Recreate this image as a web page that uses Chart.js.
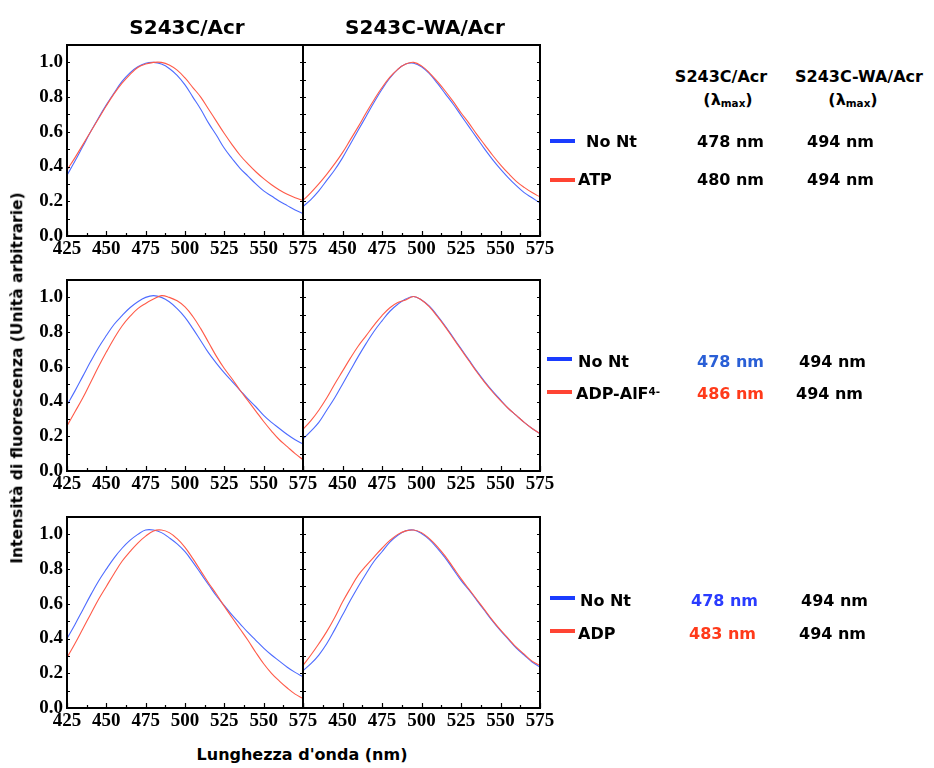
<!DOCTYPE html>
<html><head><meta charset="utf-8">
<script src="https://cdn.jsdelivr.net/npm/chart.js@4"></script>
<style>
body{margin:0;background:#fff;width:934px;height:768px;position:relative;overflow:hidden;font-family:"DejaVu Sans",sans-serif;}
canvas{position:absolute;}
.t{position:absolute;font-weight:bold;white-space:nowrap;color:#000;line-height:1;transform:translateY(-50%);}
.c{position:absolute;font-weight:bold;white-space:nowrap;color:#000;line-height:1;transform:translate(-50%,-50%);}
.bar{position:absolute;height:4px;width:25px;}
sub{font-size:0.65em;vertical-align:-0.25em;}
sup{font-size:0.65em;vertical-align:0.45em;}
</style></head><body>
<script>
// ---------- DATA ----------
const wavelengths = [425,430,435,440,445,450,455,460,465,470,475,480,485,490,495,500,505,510,515,520,525,530,535,540,545,550,555,560,565,570,575];
const xTickLabels = [425,450,475,500,525,550,575];
const yTickLabels = [0.0,0.2,0.4,0.6,0.8,1.0];

// Row 1: No Nt vs ATP
const s243c_noNt_1   = [0.35,0.43,0.515,0.60,0.68,0.755,0.825,0.89,0.94,0.975,0.995,1.0,0.99,0.965,0.925,0.87,0.80,0.73,0.65,0.58,0.505,0.445,0.39,0.345,0.30,0.26,0.23,0.20,0.175,0.15,0.13];
const s243c_atp      = [0.38,0.45,0.525,0.60,0.675,0.75,0.82,0.88,0.93,0.97,0.99,1.0,1.0,0.985,0.955,0.91,0.855,0.80,0.73,0.66,0.59,0.525,0.465,0.415,0.37,0.33,0.295,0.265,0.24,0.22,0.205];
const s243cwa_noNt_1 = [0.17,0.21,0.26,0.32,0.38,0.45,0.53,0.61,0.69,0.77,0.845,0.91,0.96,0.99,0.995,0.975,0.935,0.88,0.82,0.76,0.695,0.63,0.565,0.50,0.44,0.385,0.335,0.29,0.25,0.22,0.19];
const s243cwa_atp    = [0.205,0.25,0.30,0.355,0.415,0.48,0.555,0.63,0.71,0.785,0.855,0.915,0.96,0.99,1.0,0.98,0.94,0.89,0.835,0.775,0.71,0.65,0.585,0.525,0.465,0.41,0.36,0.315,0.28,0.25,0.225];

// Row 2: No Nt vs ADP-AlF4-
const s243c_noNt_2   = [0.38,0.46,0.545,0.63,0.71,0.78,0.845,0.895,0.94,0.975,1.0,1.01,1.0,0.975,0.935,0.885,0.82,0.75,0.68,0.62,0.565,0.515,0.465,0.415,0.37,0.32,0.28,0.245,0.21,0.18,0.155];
const s243c_alf      = [0.26,0.34,0.42,0.51,0.60,0.685,0.765,0.835,0.89,0.935,0.965,0.99,1.01,1.0,0.98,0.945,0.89,0.82,0.74,0.66,0.59,0.53,0.465,0.405,0.345,0.285,0.23,0.18,0.14,0.10,0.065];
const s243cwa_noNt_2 = [0.185,0.23,0.28,0.35,0.42,0.50,0.58,0.66,0.735,0.805,0.865,0.92,0.96,0.99,1.005,0.985,0.95,0.895,0.835,0.77,0.705,0.64,0.575,0.515,0.46,0.41,0.36,0.32,0.28,0.245,0.215];
const s243cwa_alf    = [0.24,0.29,0.35,0.42,0.50,0.575,0.65,0.72,0.78,0.84,0.895,0.94,0.97,0.985,1.005,0.985,0.945,0.89,0.83,0.765,0.70,0.635,0.57,0.51,0.455,0.405,0.36,0.32,0.28,0.245,0.215];

// Row 3: No Nt vs ADP
const s243c_noNt_3   = [0.40,0.48,0.565,0.65,0.73,0.80,0.865,0.92,0.965,1.0,1.025,1.025,1.01,0.98,0.945,0.90,0.84,0.775,0.71,0.645,0.59,0.535,0.485,0.435,0.39,0.345,0.305,0.27,0.235,0.205,0.18];
const s243c_adp      = [0.29,0.37,0.455,0.54,0.625,0.70,0.775,0.845,0.90,0.95,0.99,1.02,1.025,1.01,0.975,0.925,0.86,0.79,0.72,0.655,0.585,0.52,0.455,0.39,0.32,0.255,0.20,0.155,0.115,0.08,0.055];
const s243cwa_noNt_3 = [0.215,0.255,0.305,0.37,0.45,0.535,0.62,0.70,0.775,0.845,0.90,0.955,0.995,1.02,1.025,1.005,0.97,0.92,0.865,0.80,0.735,0.68,0.62,0.56,0.50,0.445,0.395,0.345,0.305,0.265,0.235];
const s243cwa_adp    = [0.245,0.305,0.37,0.44,0.52,0.61,0.69,0.765,0.82,0.87,0.92,0.965,1.0,1.02,1.025,1.01,0.975,0.93,0.875,0.81,0.745,0.685,0.625,0.565,0.505,0.45,0.40,0.35,0.31,0.27,0.245];

// ---------- DRAWING ----------
const BLUE_LINE = '#4d6bff', RED_LINE = '#ff5a48';
const tickFont = {family:'"Liberation Serif", serif', size:19, weight:'bold'};

const framePlugin = {
  id:'frame',
  afterDatasetsDraw(chart){
    const {ctx, chartArea:a, scales:{x, y}} = chart;
    ctx.save();
    ctx.strokeStyle = '#000';
    ctx.lineWidth = 1.2;
    ctx.beginPath();
    for (let v = 425; v <= 575; v += 12.5){
      const px = Math.round(x.getPixelForValue(v)) + 0.5;
      const len = (Math.abs((v-425) % 25) < 0.01) ? 5 : 3;
      ctx.moveTo(px, a.bottom); ctx.lineTo(px, a.bottom - len);
    }
    for (let v = 0.1; v <= 1.05; v += 0.1){
      const py = Math.round(y.getPixelForValue(v)) + 0.5;
      ctx.moveTo(a.left, py); ctx.lineTo(a.left + 3, py);
      ctx.moveTo(a.right, py); ctx.lineTo(a.right - 3, py);
    }
    ctx.stroke();
    ctx.lineWidth = 2;
    ctx.strokeRect(a.left, a.top, a.right - a.left, a.bottom - a.top);
    ctx.restore();
  }
};

function panel(plotLeft, plotTop, isLeft, blue, red){
  const padTop = 10, xAxisH = 30, plotH = 191, padR = 22;
  const yAxisW = isLeft ? 47 : 20;
  const plotW = isLeft ? 236 : 237;
  const W = yAxisW + plotW + padR, H = padTop + plotH + xAxisH;
  const cv = document.createElement('canvas');
  cv.width = W; cv.height = H;
  cv.style.width = W + 'px'; cv.style.height = H + 'px';
  cv.style.left = (plotLeft - yAxisW) + 'px';
  cv.style.top = (plotTop - padTop) + 'px';
  document.body.appendChild(cv);
  const mk = (arr) => wavelengths.map((w, i) => ({x: w, y: arr[i]}));
  new Chart(cv, {
    type: 'line',
    data: { datasets: [
      {data: mk(red), borderColor: RED_LINE, borderWidth: 1.1, pointRadius: 0, tension: 0.4, fill: false},
      {data: mk(blue), borderColor: BLUE_LINE, borderWidth: 1.1, pointRadius: 0, tension: 0.4, fill: false}
    ]},
    options: {
      responsive: false, animation: false, devicePixelRatio: 1,
      layout: {padding: {top: padTop, right: padR, left: 0, bottom: 0}},
      plugins: {legend: {display: false}, tooltip: {enabled: false}},
      scales: {
        x: {
          type: 'linear', min: 425, max: 575,
          afterBuildTicks: s => { s.ticks = xTickLabels.map(v => ({value: v})); },
          afterFit: s => { s.height = xAxisH; s.paddingLeft = 0; s.paddingRight = 0; s.paddingTop = 0; s.paddingBottom = 0; },
          grid: {display: false, drawTicks: false}, border: {display: false},
          ticks: {font: tickFont, color: '#000', padding: 2, maxRotation: 0, autoSkip: false,
                  callback: v => (!isLeft && v === 425) ? '' : String(v)}
        },
        y: {
          type: 'linear', min: 0, max: 1.1,
          afterBuildTicks: s => { s.ticks = yTickLabels.map(v => ({value: v})); },
          afterFit: s => { s.width = yAxisW; s.paddingTop = 0; s.paddingBottom = 0; s.paddingLeft = 0; s.paddingRight = 0; },
          grid: {display: false, drawTicks: false}, border: {display: false},
          ticks: {display: isLeft, font: tickFont, color: '#000', padding: 4,
                  callback: v => Number(v).toFixed(1)}
        }
      }
    },
    plugins: [framePlugin]
  });
}

const rowTops = [45, 280, 517];
panel(67, rowTops[0], true, s243c_noNt_1, s243c_atp);
panel(303, rowTops[0], false, s243cwa_noNt_1, s243cwa_atp);
panel(67, rowTops[1], true, s243c_noNt_2, s243c_alf);
panel(303, rowTops[1], false, s243cwa_noNt_2, s243cwa_alf);
panel(67, rowTops[2], true, s243c_noNt_3, s243c_adp);
panel(303, rowTops[2], false, s243cwa_noNt_3, s243cwa_adp);
</script>

<div class="c" style="left:187px;top:27px;font-size:20px;">S243C/Acr</div>
<div class="c" style="left:425px;top:27px;font-size:20px;">S243C-WA/Acr</div>
<div class="c" style="left:18px;top:378px;font-size:15.5px;transform:translate(-50%,-50%) rotate(-90deg);">Intensità di fluorescenza (Unità arbitrarie)</div>
<div class="c" style="left:302px;top:755px;font-size:16px;">Lunghezza d'onda (nm)</div>

<div class="c" style="left:721px;top:77px;font-size:16px;">S243C/Acr</div>
<div class="c" style="left:728px;top:100px;font-size:16px;">(λ<sub>max</sub>)</div>
<div class="c" style="left:859px;top:77px;font-size:16px;">S243C-WA/Acr</div>
<div class="c" style="left:853px;top:100px;font-size:16px;">(λ<sub>max</sub>)</div>

<div class="bar" style="left:550px;top:139px;background:#1a3cff;"></div>
<div class="bar" style="left:550px;top:178px;background:#ff4433;"></div>
<div class="t" style="left:586px;top:142px;font-size:16px;">No Nt</div>
<div class="t" style="left:578px;top:180px;font-size:16px;">ATP</div>
<div class="t" style="left:697px;top:142px;font-size:16px;">478 nm</div>
<div class="t" style="left:697px;top:180px;font-size:16px;">480 nm</div>
<div class="t" style="left:807px;top:142px;font-size:16px;">494 nm</div>
<div class="t" style="left:807px;top:180px;font-size:16px;">494 nm</div>

<div class="bar" style="left:547px;top:357px;background:#1a3cff;"></div>
<div class="bar" style="left:547px;top:390px;background:#ff4433;"></div>
<div class="t" style="left:578px;top:362px;font-size:16px;">No Nt</div>
<div class="t" style="left:576px;top:394px;font-size:16px;">ADP-AlF<sup>4-</sup></div>
<div class="t" style="left:697px;top:362px;font-size:16px;color:#2a5fd6;">478 nm</div>
<div class="t" style="left:697px;top:394px;font-size:16px;color:#ff3a1a;">486 nm</div>
<div class="t" style="left:799px;top:362px;font-size:16px;">494 nm</div>
<div class="t" style="left:796px;top:394px;font-size:16px;">494 nm</div>

<div class="bar" style="left:550px;top:596px;background:#1a3cff;"></div>
<div class="bar" style="left:550px;top:629px;background:#ff4433;"></div>
<div class="t" style="left:580px;top:601px;font-size:16px;">No Nt</div>
<div class="t" style="left:578px;top:634px;font-size:16px;">ADP</div>
<div class="t" style="left:691px;top:601px;font-size:16px;color:#2a3cff;">478 nm</div>
<div class="t" style="left:689px;top:634px;font-size:16px;color:#ff3a1a;">483 nm</div>
<div class="t" style="left:801px;top:601px;font-size:16px;">494 nm</div>
<div class="t" style="left:799px;top:634px;font-size:16px;">494 nm</div>
</body></html>
